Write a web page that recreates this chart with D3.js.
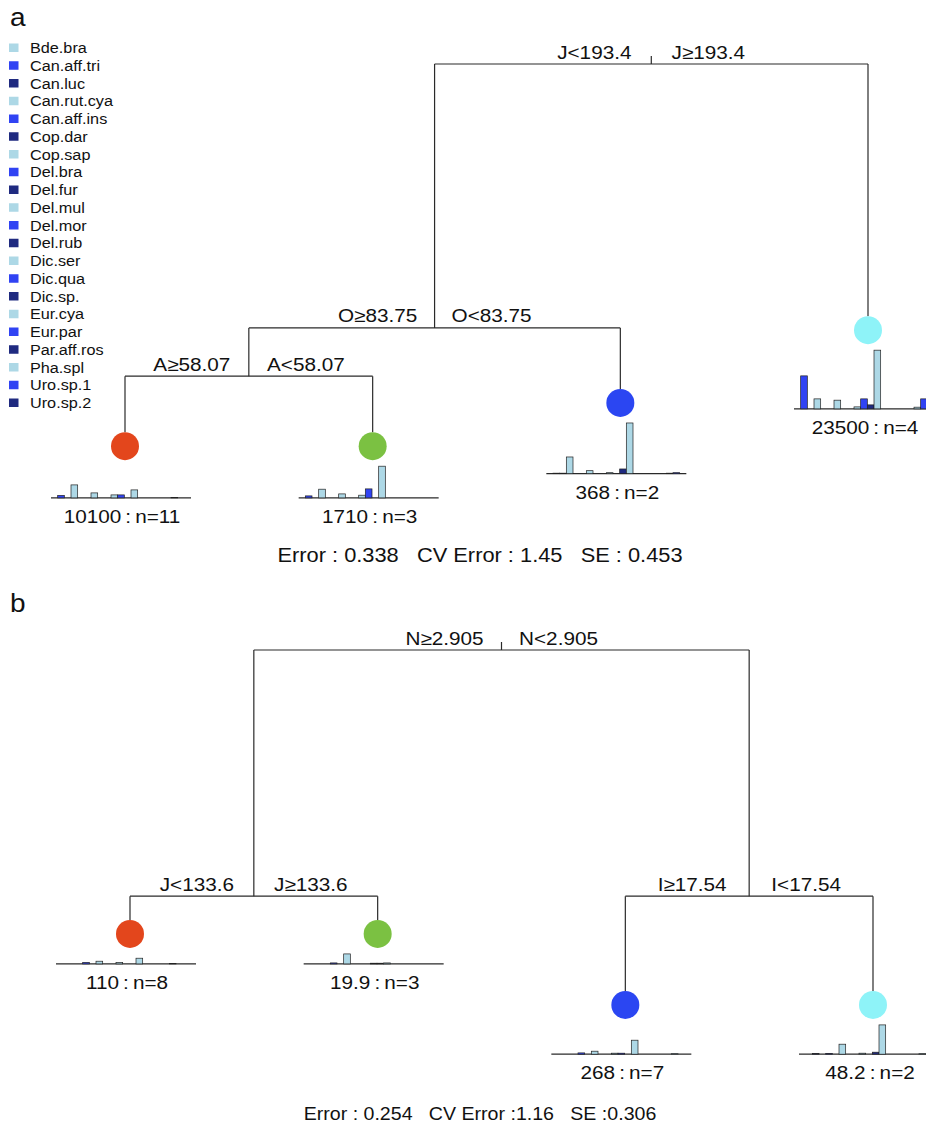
<!DOCTYPE html>
<html>
<head>
<meta charset="utf-8">
<script src="https://cdn.jsdelivr.net/npm/d3@7"></script>
<style>
body { margin: 0; background: #fff; }
svg { font-family: "Liberation Sans", Arial, sans-serif; }
svg text { white-space: pre; }
</style>
</head>
<body>
<div id="chart"></div>
<script>
// species, in legend order (bar order inside each leaf)
var species = ["Bde.bra", "Can.aff.tri", "Can.luc", "Can.rut.cya", "Can.aff.ins", "Cop.dar", "Cop.sap",
	"Del.bra", "Del.fur", "Del.mul", "Del.mor", "Del.rub", "Dic.ser", "Dic.qua", "Dic.sp.",
	"Eur.cya", "Eur.par", "Par.aff.ros", "Pha.spl", "Uro.sp.1", "Uro.sp.2"];
var speciesColors = ["#add8e6", "#3043f3", "#1f2a80"];
var leafColors = ["#e3461c", "#7bc142", "#2b46f2", "#8ef3f8"];

// tree a
var nodesA   = ["root", "O", "A", "leaf1", "leaf2", "leaf3", "leaf4"];
var parentsA = ["", "root", "O", "A", "A", "O", "root"];
var devA     = [1, 0.420, 0.314, 0.160, 0.160, 0.255, 0.415];
var splitsA  = {root: ["J<193.4", "J\u2265193.4"], O: ["O\u226583.75", "O<83.75"], A: ["A\u226558.07", "A<58.07"]};
var leafLabelsA = ["10100\u2009:\u2009n=11", "1710\u2009:\u2009n=3", "368\u2009:\u2009n=2", "23500\u2009:\u2009n=4"];
var leafValuesA = [
	[0, 2.5, 0, 13, 0, 0, 5, 0, 0, 3, 3, 0, 8, 0, 0, 0, 0, 0, 0.5, 0, 0],
	[0, 2, 0, 8.7, 0, 0, 4, 0, 0, 2.7, 9, 0, 31.7, 0, 0, 0, 0, 0, 0, 0, 0],
	[0, 0.5, 0.5, 16.7, 0, 0, 3, 0, 0, 1, 0, 4.7, 50.7, 0, 0, 0, 0, 0, 0.5, 1, 0],
	[0, 33, 0, 10, 0, 0, 8.7, 0, 0, 2, 10, 4, 58.7, 0, 0, 0, 0, 0, 1.7, 10, 0]
];
var errorA = "Error : 0.338   CV Error : 1.45   SE : 0.453";

// tree b
var nodesB   = ["root", "J", "I", "leaf1", "leaf2", "leaf3", "leaf4"];
var parentsB = ["", "root", "root", "J", "J", "I", "I"];
var devB     = [1, 0.459, 0.459, 0.376, 0.376, 0.220, 0.220];
var splitsB  = {root: ["N\u22652.905", "N<2.905"], J: ["J<133.6", "J\u2265133.6"], I: ["I\u226517.54", "I<17.54"]};
var leafLabelsB = ["110\u2009:\u2009n=8", "19.9\u2009:\u2009n=3", "268\u2009:\u2009n=7", "48.2\u2009:\u2009n=2"];
var leafValuesB = [
	[0, 0, 0, 0, 1.5, 0, 2.7, 0, 0, 1.5, 0, 0, 5.7, 0, 0, 0, 0, 0.5, 0, 0, 0],
	[0, 0, 0, 0, 1, 0, 10, 0, 0, 0, 0.7, 0.7, 1, 0, 0, 0, 0, 0, 0, 0, 0],
	[0, 0, 0, 0, 1.3, 0, 3, 0, 0, 1, 1, 0, 14, 0, 0, 0, 0, 0, 0.5, 0, 0],
	[0, 0, 0.7, 0, 0.7, 0, 10, 0, 0, 1, 0, 2, 29.3, 0, 0, 0, 0, 0, 0.5, 0, 0]
];
var errorB = "Error : 0.254   CV Error :1.16   SE :0.306";

var width = 926, height = 1129;
var SX = 1.12;     // glyphs in the picture are a bit wider than Liberation Sans
var lineCol = "#2a2a2a";

var svg = d3.select("#chart").append("svg")
	.attr("width", width)
	.attr("height", height);

var barH = d3.scaleLinear().domain([0, 60]).range([0, 60]);

function txt(g, x, y, s, size, anchor) {
	return g.append("text")
		.attr("transform", "translate(" + x + "," + y + ") scale(" + SX + ",1)")
		.attr("font-size", size)
		.attr("text-anchor", anchor || "middle")
		.attr("fill", "#111")
		.text(s);
}

function drawTree(opts) {
	var g = svg.append("g");

	var root = d3.stratify()
		.id((d, i) => opts.nodes[i])
		.parentId((d, i) => opts.parents[i])
		(opts.nodes);

	var x = d3.scaleLinear().domain([0, 3]).range(opts.xRange);
	var y = d3.scaleLinear().domain([1, 0]).range([opts.top, opts.top + 455]);

	var leaves = root.leaves();
	leaves.forEach((d, i) => { d.leafIndex = i; d.px = x(i); });
	root.eachAfter(d => {
		if (d.children) d.px = d3.mean(d.children, c => c.px);
		d.py = y(opts.dev[opts.nodes.indexOf(d.id)]);
	});

	// branches
	root.each(d => {
		if (!d.children) return;
		var l = d.children[0], r = d.children[1];
		g.append("line").attr("x1", l.px).attr("x2", r.px).attr("y1", d.py).attr("y2", d.py)
			.attr("stroke", lineCol).attr("stroke-width", 1.2);
		d.children.forEach(c => {
			g.append("line").attr("x1", c.px).attr("x2", c.px).attr("y1", d.py)
				.attr("y2", c.children ? c.py : c.py - 14)
				.attr("stroke", lineCol).attr("stroke-width", 1.2);
		});
		if (!d.parent) {
			g.append("line").attr("x1", d.px).attr("x2", d.px).attr("y1", d.py - 8).attr("y2", d.py)
				.attr("stroke", lineCol).attr("stroke-width", 1.2);
		}
		var lab = opts.splits[d.id];
		txt(g, d.px - 57, d.py - 5.5, lab[0], 18.5);
		txt(g, d.px + 57, d.py - 5.5, lab[1], 18.5);
	});

	// leaves
	leaves.forEach(d => {
		var vals = opts.values[d.leafIndex];
		var sameRow = leaves.filter(o => Math.abs(o.py - d.py) < 1);
		var rowMax = d3.max(sameRow, o => d3.max(opts.values[o.leafIndex]));
		var base = d.py + 14 + 6 + barH(rowMax);

		var bx = d3.scaleBand().domain(d3.range(species.length))
			.range([d.px - 74, d.px + 66]);

		g.append("line").attr("x1", d.px - 74).attr("x2", d.px + 66)
			.attr("y1", base).attr("y2", base)
			.attr("stroke", lineCol).attr("stroke-width", 1.2);

		g.selectAll(null)
			.data(vals.map((v, i) => ({v: v, i: i})).filter(e => e.v > 0))
			.enter()
				.append("rect")
				.attr("x", e => bx(e.i))
				.attr("width", bx.bandwidth())
				.attr("y", e => base - barH(e.v))
				.attr("height", e => barH(e.v))
				.attr("fill", e => speciesColors[e.i % 3])
				.attr("stroke", "#222")
				.attr("stroke-width", 0.7);

		g.append("circle")
			.attr("cx", d.px).attr("cy", d.py).attr("r", 14)
			.attr("fill", leafColors[d.leafIndex]);

		txt(g, d.px - 3, base + 25, opts.leafLabels[d.leafIndex], 18.5);
	});

	txt(g, 480, opts.errorY, opts.error, opts.errorSize);
	txt(g, 10, opts.top - 38, opts.letter, 25, "start");
}

// legend
var legend = svg.append("g");
species.forEach((s, i) => {
	var yy = 48 + i * 17.75;
	legend.append("rect")
		.attr("x", 9).attr("y", yy - 4.5)
		.attr("width", 9.5).attr("height", 8.5)
		.attr("fill", speciesColors[i % 3]);
	txt(legend, 30, yy + 5, s, 14.5, "start");
});

drawTree({nodes: nodesA, parents: parentsA, dev: devA, splits: splitsA, values: leafValuesA,
	leafLabels: leafLabelsA, error: errorA, errorSize: 19.5, xRange: [125, 868], top: 64, errorY: 562, letter: "a"});
drawTree({nodes: nodesB, parents: parentsB, dev: devB, splits: splitsB, values: leafValuesB,
	leafLabels: leafLabelsB, error: errorB, errorSize: 17.5, xRange: [130, 873], top: 650, errorY: 1120, letter: "b"});
</script>
</body>
</html>
